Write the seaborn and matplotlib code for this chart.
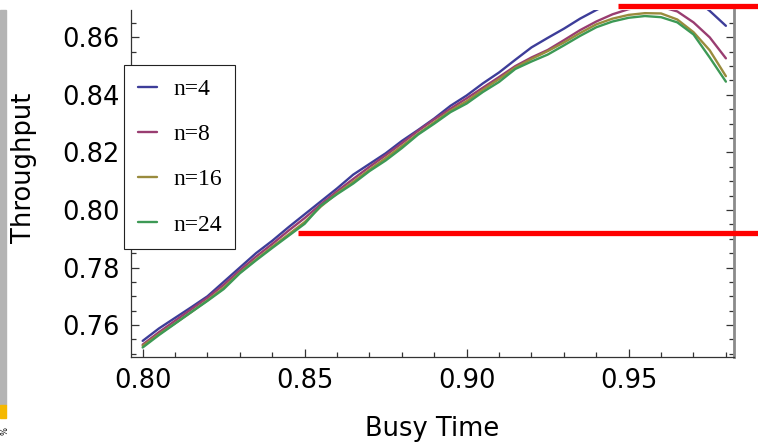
import pandas as pd
import seaborn as sns
import matplotlib.pyplot as plt
from matplotlib.ticker import MultipleLocator, FormatStrFormatter
from matplotlib.patches import Rectangle

# busy time grid (x) shared by all series
busy_time = [0.800, 0.805, 0.810, 0.815, 0.820, 0.825, 0.830, 0.835, 0.840, 0.845,
             0.850, 0.855, 0.860, 0.865, 0.870, 0.875, 0.880, 0.885, 0.890, 0.895,
             0.900, 0.905, 0.910, 0.915, 0.920, 0.925, 0.930, 0.935, 0.940, 0.945,
             0.950, 0.955, 0.960, 0.965, 0.970, 0.975, 0.980]

thr_n4 = [0.7545, 0.7588, 0.7625, 0.7662, 0.7700, 0.7750, 0.7800, 0.7850, 0.7893, 0.7940,
          0.7985, 0.8030, 0.8075, 0.8123, 0.8160, 0.8197, 0.8240, 0.8278, 0.8318, 0.8362,
          0.8398, 0.8440, 0.8478, 0.8522, 0.8565, 0.8598, 0.8630, 0.8665, 0.8695, 0.8722,
          0.8742, 0.8755, 0.8760, 0.8755, 0.8735, 0.8692, 0.8640]
thr_n8 = [0.7532, 0.7575, 0.7615, 0.7655, 0.7695, 0.7740, 0.7790, 0.7838, 0.7882, 0.7928,
          0.7972, 0.8020, 0.8065, 0.8108, 0.8150, 0.8190, 0.8232, 0.8275, 0.8315, 0.8352,
          0.8388, 0.8425, 0.8462, 0.8500, 0.8530, 0.8556, 0.8590, 0.8625, 0.8655, 0.8680,
          0.8698, 0.8706, 0.8706, 0.8690, 0.8652, 0.8600, 0.8527]
thr_n16 = [0.7528, 0.7568, 0.7606, 0.7645, 0.7686, 0.7730, 0.7782, 0.7828, 0.7872, 0.7915,
           0.7958, 0.8012, 0.8058, 0.8098, 0.8140, 0.8180, 0.8222, 0.8265, 0.8305, 0.8345,
           0.8378, 0.8418, 0.8455, 0.8495, 0.8525, 0.8552, 0.8582, 0.8615, 0.8645, 0.8665,
           0.8678, 0.8684, 0.8683, 0.8662, 0.8618, 0.8555, 0.8465]
thr_n24 = [0.7522, 0.7565, 0.7605, 0.7645, 0.7684, 0.7725, 0.7780, 0.7825, 0.7868, 0.7910,
           0.7952, 0.8015, 0.8055, 0.8092, 0.8135, 0.8172, 0.8215, 0.8262, 0.8300, 0.8340,
           0.8370, 0.8410, 0.8445, 0.8490, 0.8516, 0.8540, 0.8572, 0.8605, 0.8635, 0.8655,
           0.8668, 0.8674, 0.8670, 0.8652, 0.8610, 0.8530, 0.8446]

series_labels = ["n=4", "n=8", "n=16", "n=24"]
series_colors = ["#3d3d99", "#993d71", "#998b3d", "#3d9955"]

# red marker lines drawn over the chart: (x start, y level)
red_lines = [(0.848, 0.7921), (0.9467, 0.8708)]

df = pd.concat([
    pd.DataFrame({"busy": busy_time, "thr": vals, "series": lab})
    for vals, lab in zip([thr_n4, thr_n8, thr_n16, thr_n24], series_labels)
])

sns.set_style("white")
plt.rcParams["font.family"] = ["DejaVu Sans"]
plt.rcParams["text.color"] = "black"
plt.rcParams["axes.labelcolor"] = "black"
plt.rcParams["xtick.color"] = "black"
plt.rcParams["ytick.color"] = "black"

fig = plt.figure(figsize=(7.58, 4.44), dpi=100)
ax = fig.add_axes([131 / 758, 87 / 444, 603 / 758, 347 / 444])

sns.lineplot(data=df, x="busy", y="thr", hue="series", hue_order=series_labels,
             palette=series_colors, linewidth=1.7, legend=False, ax=ax)

for x0, y0 in red_lines:
    ax.plot([x0, 0.995], [y0, y0], color="#ff0000", linewidth=3.8,
            solid_capstyle="butt", clip_on=False, zorder=6)

ax.set_xlim(0.7964, 0.9825)
ax.set_ylim(0.7489, 0.8695)

ax.xaxis.set_major_locator(MultipleLocator(0.05))
ax.xaxis.set_minor_locator(MultipleLocator(0.01))
ax.yaxis.set_major_locator(MultipleLocator(0.02))
ax.yaxis.set_minor_locator(MultipleLocator(0.005))
ax.xaxis.set_major_formatter(FormatStrFormatter("%.2f"))
ax.yaxis.set_major_formatter(FormatStrFormatter("%.2f"))

ax.tick_params(which="both", direction="in", bottom=True, left=True, top=False,
               right=True, labelright=False, color="#333333", width=0.9)
ax.tick_params(which="major", length=6, labelsize=18.5)
ax.tick_params(axis="x", which="major", pad=8)
ax.tick_params(axis="y", which="major", pad=8)
ax.tick_params(which="minor", length=3.5)

ax.spines["top"].set_visible(False)
ax.spines["left"].set_color("#333333")
ax.spines["bottom"].set_color("#333333")
ax.spines["left"].set_linewidth(0.9)
ax.spines["bottom"].set_linewidth(0.9)
ax.spines["right"].set_color("#8a8a8a")
ax.spines["right"].set_linewidth(2)

ax.set_xlabel("Busy Time", fontsize=18.5)
ax.set_ylabel("Throughput", fontsize=18.5)
ax.xaxis.set_label_coords(0.5, -0.17)
ax.yaxis.set_label_coords(-0.156, 0.545)

leg = ax.legend(ax.lines[:4], series_labels, loc="upper left",
                bbox_to_anchor=(-0.0116, 0.8415), borderaxespad=0,
                frameon=True, fancybox=False, framealpha=1, edgecolor="#222222",
                prop={"family": "Liberation Serif", "size": 17},
                handlelength=0.8, handletextpad=0.7, labelspacing=1.0, borderpad=0.58)
leg.get_frame().set_linewidth(0.8)

# screenshot strip at left edge
fig.patches.append(Rectangle((0, 39 / 444), 6 / 758, 395 / 444,
                             transform=fig.transFigure, color="#b4b4b4"))
fig.patches.append(Rectangle((0, 26 / 444), 6 / 758, 13 / 444,
                             transform=fig.transFigure, color="#f5b800"))
fig.text(0.5 / 758, 13 / 444, "%", rotation=90, fontsize=6, ha="left", va="center")

fig.savefig("out.png", dpi=100)
plt.close(fig)
